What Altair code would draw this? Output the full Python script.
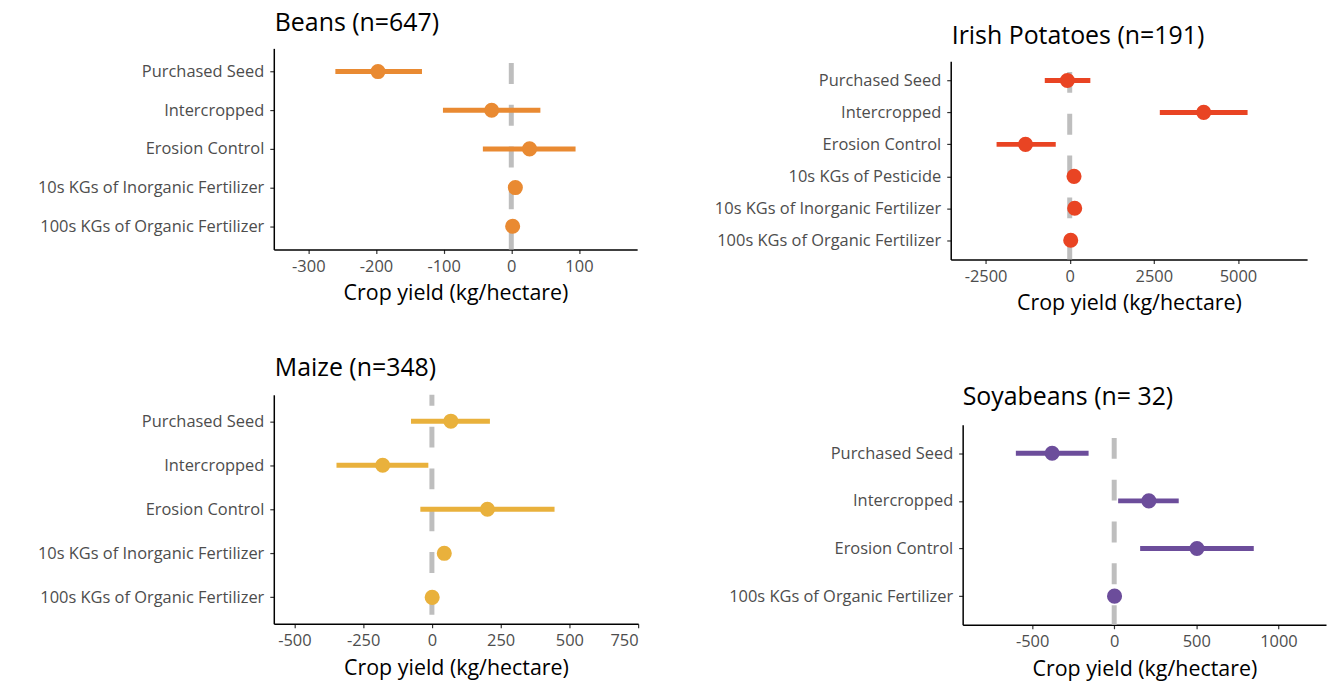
import altair as alt
import pandas as pd

# ---- data ----
beans_cat = ["Purchased Seed", "Intercropped", "Erosion Control",
             "10s KGs of Inorganic Fertilizer", "100s KGs of Organic Fertilizer"]
beans_est = [-197, -29, 27, 6, 2]
beans_lo = [-260, -101, -42, 3, 0]
beans_hi = [-132, 43, 95, 9, 4]

potato_cat = ["Purchased Seed", "Intercropped", "Erosion Control", "10s KGs of Pesticide",
              "10s KGs of Inorganic Fertilizer", "100s KGs of Organic Fertilizer"]
potato_est = [-69, 3983, -1314, 128, 148, 30]
potato_lo = [-741, 2678, -2174, 90, 110, -10]
potato_hi = [613, 5287, -415, 166, 186, 70]

maize_cat = ["Purchased Seed", "Intercropped", "Erosion Control",
             "10s KGs of Inorganic Fertilizer", "100s KGs of Organic Fertilizer"]
maize_est = [69, -179, 202, 45, 1]
maize_lo = [-76, -347, -42, 40, -3]
maize_hi = [211, -13, 446, 50, 5]

soy_cat = ["Purchased Seed", "Intercropped", "Erosion Control", "100s KGs of Organic Fertilizer"]
soy_est = [-378, 211, 504, 2]
soy_lo = [-599, 24, 158, -4]
soy_hi = [-156, 393, 850, 8]

FONT = "Open Sans"
W, H = 1326, 678


def panel(title, cats, est, lo, hi, color, domain, ticks, xr, yr, dash_off, tpos):
    df = pd.DataFrame({"cat": cats, "est": est, "lo": lo, "hi": hi})
    yscale = alt.Scale(type="point", padding=0.6, range=yr)
    yaxis = alt.Axis(orient="left", offset=-xr[0], title=None, labelLimit=400)
    y = alt.Y("cat:N", sort=cats, scale=yscale, axis=yaxis)
    xscale = alt.Scale(domain=domain, range=xr, nice=False, zero=False)
    xaxis = alt.Axis(orient="bottom", offset=-(H - yr[1]), values=ticks,
                     title="Crop yield (kg/hectare)", labelExpr="'' + datum.value")
    zero = alt.Chart(pd.DataFrame({"z": [0]})).mark_rule(
        color="#BEBEBE", strokeWidth=5, strokeDash=[21, 21], strokeDashOffset=dash_off
    ).encode(x=alt.X("z:Q", scale=xscale, axis=xaxis), y=alt.value(yr[0]), y2=alt.value(yr[1]))
    bars = alt.Chart(df).mark_rule(color=color, strokeWidth=5).encode(
        x=alt.X("lo:Q", scale=xscale, axis=xaxis), x2="hi:Q", y=y)
    pts = alt.Chart(df).mark_circle(color=color, size=230, opacity=1).encode(
        x=alt.X("est:Q", scale=xscale, axis=xaxis), y=y)
    body = alt.layer(zero, bars, pts)
    ttl = alt.Chart(pd.DataFrame({"t": [title]})).mark_text(
        align="left", baseline="alphabetic", font=FONT, fontSize=25, color="black"
    ).encode(text="t:N", x=alt.value(tpos[0]), y=alt.value(tpos[1]))
    return body, ttl


b1, t1 = panel("Beans (n=647)", beans_cat, beans_est, beans_lo, beans_hi, "#E98A32",
               [-351, 186], [-300, -200, -100, 0, 100], [267, 632], [39, 241], 27.3, (268, 22))
b2, t2 = panel("Irish Potatoes (n=191)", potato_cat, potato_est, potato_lo, potato_hi, "#E94423",
               [-3537, 7056], [-2500, 0, 2500, 5000], [947, 1305], [52, 251], 31.3, (948, 35))
b3, t3 = panel("Maize (n=348)", maize_cat, maize_est, maize_lo, maize_hi, "#E9B13C",
               [-575, 750], [-500, -250, 0, 250, 500, 750], [267, 633], [387, 617], 10, (268, 368))
b4, t4 = panel("Soyabeans (n= 32)", soy_cat, soy_est, soy_lo, soy_hi, "#6C4D9B",
               [-923, 1290], [-500, 0, 500, 1000], [959, 1324], [417, 618], 28.7, (959, 397))

chart = alt.layer(b1, b2, b3, b4, t1, t2, t3, t4).resolve_scale(
    x="independent", y="independent"
).properties(
    width=W, height=H, padding=0, autosize=alt.AutoSizeParams(type="none")
).configure_view(stroke=None).configure_axis(
    grid=False, domainColor="black", domainWidth=1.5, tickColor="#333333", tickSize=4,
    tickWidth=1.2, labelColor="#4D4D4D", labelFont=FONT, labelFontSize=16.5,
    titleFont=FONT, titleFontSize=21.5, titleColor="black", titleFontWeight="normal",
    labelPadding=5, titlePadding=8
).configure_axisY(labelPadding=6)

chart.save("out.html", embed_options={"renderer": "svg", "actions": False})
